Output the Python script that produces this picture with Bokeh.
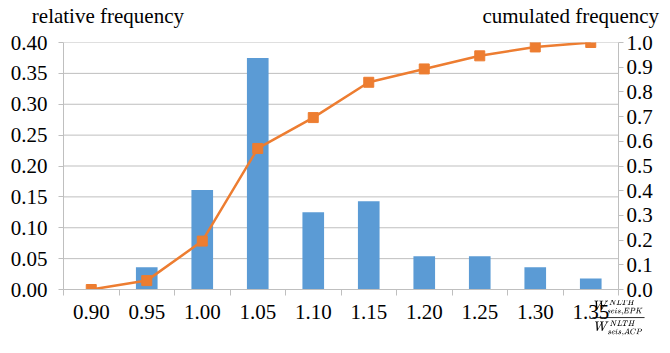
from bokeh.plotting import figure
from bokeh.models import (Range1d, LinearAxis, FixedTicker, PrintfTickFormatter, Span, TeX)
from bokeh.embed import file_html
from bokeh.resources import INLINE

# Histogram of the seismic work ratio
ratio_bins = [0.90, 0.95, 1.00, 1.05, 1.10, 1.15, 1.20, 1.25, 1.30, 1.35]
bin_labels = ["0.90", "0.95", "1.00", "1.05", "1.10", "1.15", "1.20", "1.25", "1.30", "1.35"]
relative_frequency = [0.000, 0.036, 0.161, 0.375, 0.125, 0.143, 0.054, 0.054, 0.036, 0.018]
cumulated_frequency = [0.000, 0.036, 0.196, 0.571, 0.696, 0.839, 0.893, 0.946, 0.982, 1.000]
left_ticks = [0.00, 0.05, 0.10, 0.15, 0.20, 0.25, 0.30, 0.35, 0.40]
right_ticks = [0.0, 0.1, 0.2, 0.3, 0.4, 0.5, 0.6, 0.7, 0.8, 0.9, 1.0]
axis_titles = ["relative frequency", "cumulated frequency"]
axis_title_x = [0.915, 1.332]
ratio_label = r"\dfrac{W^{\scriptscriptstyle NLTH}_{\scriptscriptstyle seis,EPK}}{W^{\scriptscriptstyle NLTH}_{\scriptscriptstyle seis,ACP}}"

SERIF = "Liberation Serif"
FONT_SIZE = "21px"
GRAY = "#BFBFBF"
BLUE = "#5B9BD5"
ORANGE = "#ED7D31"

step = 0.05
p = figure(width=670, height=353, output_backend="svg", toolbar_location=None,
           x_range=Range1d(ratio_bins[0] - step / 2, ratio_bins[-1] + step / 2),
           y_range=Range1d(0, 0.40),
           min_border_left=63, min_border_right=52, min_border_top=36, min_border_bottom=64,
           x_axis_type=None, y_axis_type=None)
p.extra_y_ranges = {"cum": Range1d(0, 1.0)}
p.outline_line_color = None

def style_labels(axis, standoff):
    axis.major_label_standoff = standoff
    axis.major_label_text_font = SERIF
    axis.major_label_text_font_size = FONT_SIZE
    axis.major_label_text_color = "black"

# bottom axis: labels at bin centres, tick marks between bins, ratio as axis title
boundaries = [b - step / 2 for b in ratio_bins] + [ratio_bins[-1] + step / 2]
xaxis = LinearAxis(ticker=FixedTicker(ticks=ratio_bins, minor_ticks=boundaries),
                   major_label_overrides=dict(zip(ratio_bins, bin_labels)))
xaxis.axis_line_color = GRAY
xaxis.major_tick_out = 0
xaxis.major_tick_in = 0
xaxis.minor_tick_out = 6
xaxis.minor_tick_in = 0
xaxis.minor_tick_line_color = GRAY
style_labels(xaxis, 9)
xaxis.axis_label = TeX(ratio_label)
xaxis.axis_label_align = "end"
xaxis.axis_label_standoff = -22
xaxis.axis_label_text_font_size = "11px"
xaxis.axis_label_text_color = "black"
p.add_layout(xaxis, "below")

# left axis: relative frequency
yaxis = LinearAxis(ticker=FixedTicker(ticks=left_ticks),
                   formatter=PrintfTickFormatter(format="%.2f"))
yaxis.axis_line_color = GRAY
yaxis.major_tick_line_color = GRAY
yaxis.major_tick_out = 5
yaxis.major_tick_in = 0
yaxis.minor_tick_line_color = None
style_labels(yaxis, 11)
p.add_layout(yaxis, "left")

# right axis: cumulated frequency
raxis = LinearAxis(y_range_name="cum", ticker=FixedTicker(ticks=right_ticks),
                   formatter=PrintfTickFormatter(format="%.1f"))
raxis.axis_line_color = GRAY
raxis.major_tick_line_color = GRAY
raxis.major_tick_out = 5
raxis.major_tick_in = 0
raxis.minor_tick_line_color = None
style_labels(raxis, 3)
p.add_layout(raxis, "right")

# top axis carries the two quantity names above the left and right scales
taxis = LinearAxis(ticker=FixedTicker(ticks=axis_title_x),
                   major_label_overrides=dict(zip(axis_title_x, axis_titles)))
taxis.axis_line_color = None
taxis.major_tick_line_color = None
taxis.minor_tick_line_color = None
style_labels(taxis, 9)
p.add_layout(taxis, "above")

# horizontal grid lines at the left-axis ticks
for t in left_ticks[1:]:
    p.add_layout(Span(location=t, dimension="width", line_color=GRAY, line_width=1,
                      level="underlay"))

p.vbar(x=ratio_bins, top=relative_frequency, width=0.0195, color=BLUE, line_color=None)
p.line(ratio_bins, cumulated_frequency, y_range_name="cum", line_color=ORANGE, line_width=2.5)
p.scatter(ratio_bins, cumulated_frequency, y_range_name="cum", marker="square", size=10,
          color=ORANGE)

open("out.html", "w").write(file_html(p, INLINE))
